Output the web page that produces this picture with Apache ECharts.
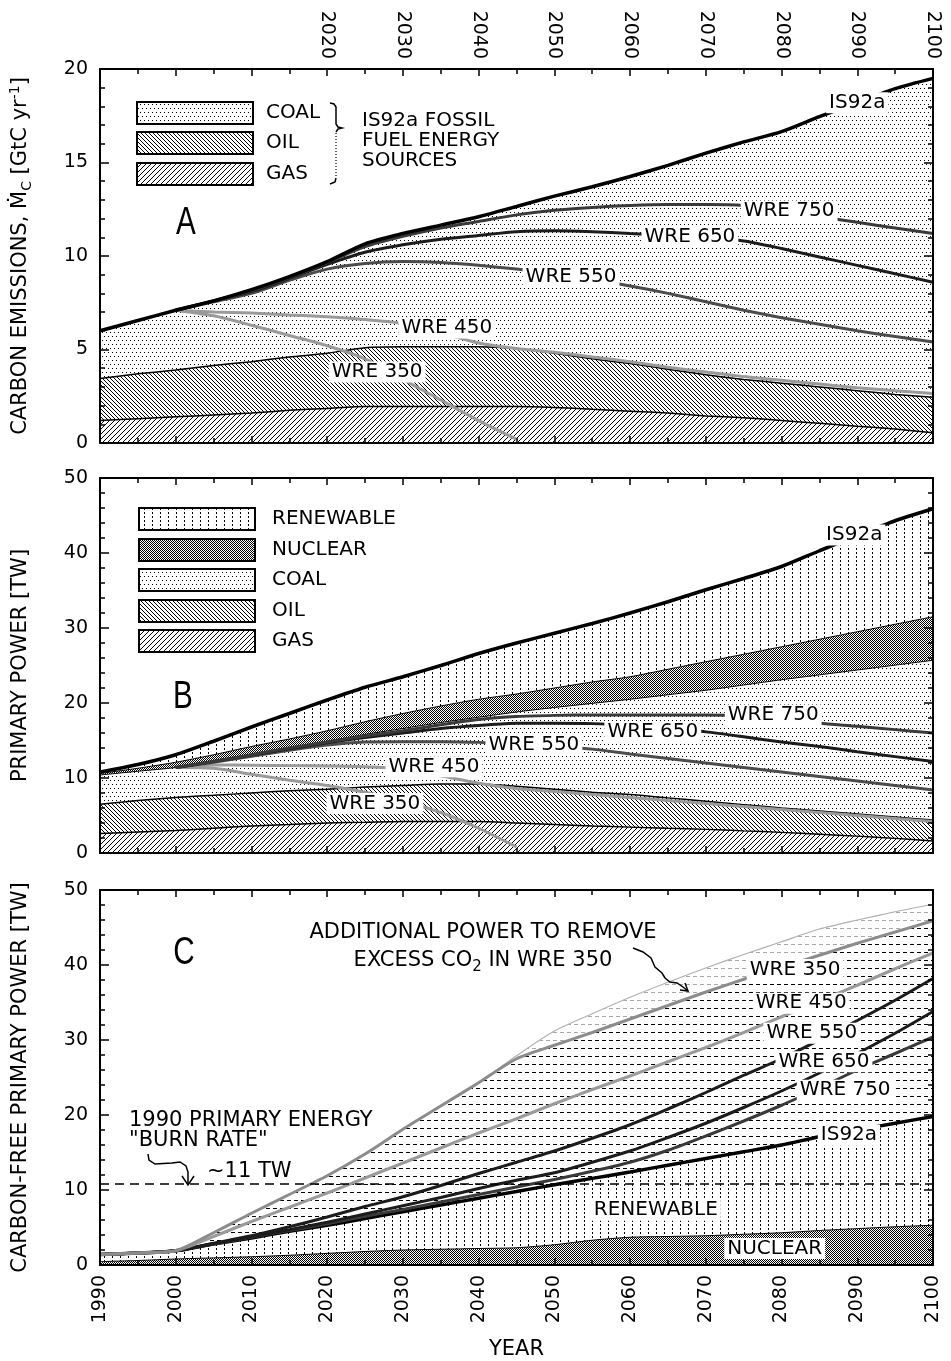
<!DOCTYPE html>
<html>
<head>
<meta charset="utf-8">
<script src="https://cdn.jsdelivr.net/npm/echarts@6/dist/echarts.min.js"></script>
<style>
  html, body { margin: 0; padding: 0; background: #fff; }
  #chart { width: 951px; height: 1361px; }
</style>
</head>
<body>
<div id="chart"></div>
<script>
// ---------------------------------------------------------------------------
// Data (values in GtC/yr for panel A, TW for panels B and C)
// ---------------------------------------------------------------------------
const _ = null;
const YEARS = [1990, 1995, 2000, 2005, 2010, 2015, 2020, 2025, 2030, 2035, 2040, 2045,
               2050, 2055, 2060, 2065, 2070, 2075, 2080, 2085, 2090, 2095, 2100];

// Panel A: carbon emissions, cumulative boundaries of the fossil sources
const A_IS92A_TOTAL = [6.0, 6.55, 7.1, 7.6, 8.2, 8.9, 9.7, 10.65, 11.2, 11.65, 12.1, 12.65,
                       13.2, 13.7, 14.25, 14.85, 15.5, 16.1, 16.65, 17.45, 18.2, 18.95, 19.5];
const A_OIL_TOP = [3.45, 3.7, 3.9, 4.15, 4.35, 4.6, 4.8, 5.1, 5.15, 5.15, 5.15, 5.05,
                   4.8, 4.5, 4.25, 3.95, 3.65, 3.4, 3.2, 3.0, 2.8, 2.6, 2.45];
const A_GAS_TOP = [1.2, 1.3, 1.4, 1.5, 1.6, 1.75, 1.85, 1.95, 1.95, 1.95, 1.95, 1.95,
                   1.9, 1.8, 1.7, 1.6, 1.45, 1.35, 1.2, 1.05, 0.9, 0.75, 0.55];
const A_WRE750 = [_, _, 7.1, 7.6, 8.15, 8.85, 9.65, 10.5, 11.05, 11.5, 11.85, 12.2,
                  12.45, 12.6, 12.7, 12.75, 12.75, 12.7, 12.45, 12.1, 11.8, 11.5, 11.2];
const A_WRE650 = [_, _, 7.1, 7.6, 8.1, 8.8, 9.55, 10.2, 10.6, 10.9, 11.1, 11.3,
                  11.35, 11.3, 11.2, 11.1, 11.0, 10.8, 10.4, 9.95, 9.5, 9.05, 8.6];
const A_WRE550 = [_, _, 7.1, 7.55, 8.0, 8.7, 9.3, 9.6, 9.7, 9.65, 9.5, 9.3,
                  9.05, 8.75, 8.4, 8.0, 7.55, 7.1, 6.7, 6.35, 6.0, 5.7, 5.4];
const A_WRE450 = [_, _, 7.1, 7.0, 6.95, 6.85, 6.75, 6.6, 6.4, 5.9, 5.35, 5.05,
                  4.85, 4.6, 4.35, 4.05, 3.8, 3.55, 3.35, 3.15, 2.95, 2.8, 2.65];
const A_WRE350 = [_, _, 7.1, 6.8, 6.3, 5.75, 5.2, 4.5, 3.4, 2.3, 1.2, 0.2,
                  _, _, _, _, _, _, _, _, _, _, _];

// Panel B: primary power, cumulative boundaries (gas < oil < coal < nuclear < renewable)
const B_TOTAL = [10.8, 11.8, 13.1, 14.9, 16.8, 18.6, 20.4, 22.1, 23.5, 25.0, 26.6, 28.0,
                 29.3, 30.6, 32.0, 33.5, 35.1, 36.6, 38.2, 40.3, 42.3, 44.3, 45.9];
const B_NUCLEAR_TOP = [10.6, 11.3, 12.1, 13.1, 14.2, 15.2, 16.3, 17.5, 18.6, 19.6, 20.5, 21.2,
                       22.0, 22.8, 23.5, 24.5, 25.5, 26.5, 27.5, 28.5, 29.5, 30.5, 31.5];
const B_COAL_TOP = [10.4, 10.9, 11.4, 12.2, 13.1, 14.0, 14.9, 15.8, 16.6, 17.4, 18.1, 18.8,
                    19.4, 19.95, 20.5, 21.1, 21.7, 22.4, 23.1, 23.75, 24.4, 25.05, 25.7];
const B_OIL_TOP = [6.5, 7.0, 7.4, 7.7, 8.0, 8.3, 8.5, 8.8, 9.0, 9.2, 9.2, 8.9,
                   8.5, 8.1, 7.8, 7.35, 6.9, 6.45, 6.0, 5.6, 5.2, 4.8, 4.4];
const B_GAS_TOP = [2.6, 2.8, 3.0, 3.3, 3.6, 3.8, 4.0, 4.1, 4.2, 4.2, 4.2, 4.0,
                   3.8, 3.6, 3.45, 3.3, 3.15, 2.95, 2.75, 2.5, 2.25, 1.95, 1.6];
const B_WRE750 = [_, _, 11.4, 12.2, 13.1, 14.0, 14.8, 15.6, 16.3, 17.1, 17.8, 18.2,
                  18.35, 18.4, 18.4, 18.4, 18.4, 18.3, 17.9, 17.3, 16.9, 16.45, 16.0];
const B_WRE650 = [_, _, 11.4, 12.2, 13.05, 13.9, 14.7, 15.4, 16.0, 16.6, 17.0, 17.3,
                  17.3, 17.25, 17.0, 16.6, 16.15, 15.5, 14.8, 14.2, 13.5, 12.85, 12.2];
const B_WRE550 = [_, _, 11.4, 12.1, 12.9, 13.7, 14.4, 14.8, 14.85, 14.85, 14.75, 14.5,
                  14.2, 13.85, 13.2, 12.6, 12.0, 11.4, 10.8, 10.2, 9.6, 9.0, 8.4];
const B_WRE450 = [_, _, 11.4, 11.75, 11.7, 11.65, 11.6, 11.5, 11.2, 10.3, 9.3, 8.6,
                  8.2, 7.8, 7.4, 7.0, 6.6, 6.2, 5.8, 5.4, 5.0, 4.6, 4.2];
const B_WRE350 = [_, _, 11.4, 11.3, 10.5, 9.7, 9.0, 8.1, 6.9, 5.4, 3.3, 0.8,
                  _, _, _, _, _, _, _, _, _, _, _];

// Panel C: carbon-free primary power
const C_NUCLEAR = [0.45, 0.6, 0.8, 0.95, 1.1, 1.3, 1.55, 1.8, 2.0, 2.1, 2.2, 2.3,
                   2.7, 3.3, 3.7, 3.8, 3.9, 4.1, 4.3, 4.6, 4.85, 5.1, 5.3];
const C_IS92A = [1.4, 1.6, 1.9, 2.8, 3.6, 4.5, 5.3, 6.2, 7.1, 8.0, 8.9, 9.8,
                 10.7, 11.55, 12.4, 13.3, 14.2, 15.1, 16.0, 17.1, 18.0, 18.9, 19.8];
const C_WRE750 = [1.4, 1.6, 1.9, 2.8, 3.7, 4.6, 5.5, 6.5, 7.4, 8.4, 9.4, 10.4,
                  11.4, 12.5, 13.7, 15.3, 17.2, 19.2, 21.3, 23.6, 26.0, 28.2, 30.4];
const C_WRE650 = [1.4, 1.6, 1.9, 2.85, 3.75, 4.7, 5.7, 6.8, 7.9, 9.0, 10.2, 11.3,
                  12.3, 13.7, 15.2, 17.0, 18.9, 21.0, 23.2, 25.6, 28.2, 30.9, 33.8];
const C_WRE550 = [1.4, 1.6, 1.9, 2.9, 3.9, 5.1, 6.4, 7.8, 9.1, 10.6, 12.2, 13.7,
                  15.2, 16.9, 18.7, 20.8, 23.0, 25.3, 27.5, 30.0, 32.6, 35.3, 38.2];
const C_WRE450 = [1.4, 1.6, 1.9, 3.8, 5.8, 7.7, 9.6, 11.6, 13.6, 15.6, 17.6, 19.5,
                  21.5, 23.4, 25.2, 27.1, 29.0, 31.0, 33.1, 35.2, 37.3, 39.5, 41.6];
const C_WRE350 = [1.4, 1.6, 1.9, 4.3, 6.9, 9.4, 11.9, 14.8, 18.1, 21.2, 24.3, 27.5,
                  29.3, 31.0, 32.8, 34.6, 36.4, 38.1, 39.7, 41.3, 42.9, 44.4, 45.9];
const C_WRE350_WITH_REMOVAL = [1.4, 1.6, 1.9, 4.3, 6.9, 9.4, 11.9, 14.8, 18.1, 21.2, 24.3, 27.9,
                               31.2, 33.5, 35.7, 37.7, 39.6, 41.4, 43.1, 44.8, 46.0, 47.1, 48.1];
const BURN_RATE_1990 = 10.8;

// ---------------------------------------------------------------------------
// Fill patterns
// ---------------------------------------------------------------------------
function makePattern(w, h, draw) {
  const c = document.createElement('canvas');
  c.width = w; c.height = h;
  const g = c.getContext('2d');
  g.fillStyle = '#fff'; g.fillRect(0, 0, w, h);
  g.fillStyle = '#000';
  draw(g);
  return { image: c, repeat: 'repeat' };
}
const PAT = {
  coal: makePattern(8, 8, g => { [[0, 0], [4, 0], [2, 4], [6, 4]].forEach(([x, y]) => g.fillRect(x, y, 1, 1)); }),
  oil: makePattern(4, 4, g => { for (let i = 0; i < 4; i++) g.fillRect(i, i, 1, 1); }),
  gas: makePattern(5, 5, g => { for (let i = 0; i < 5; i++) g.fillRect(4 - i, i, 1, 1); }),
  nuclear: makePattern(2, 2, g => { g.fillRect(0, 0, 1, 1); g.fillRect(1, 1, 1, 1); }),
  renewable: makePattern(8, 4, g => { g.fillRect(0, 0, 1, 2); }),
  dash: makePattern(7, 8, g => { g.fillRect(0, 0, 4, 1); }),
  dashLight: makePattern(7, 8, g => { g.fillStyle = '#a8a8a8'; g.fillRect(0, 0, 4, 1); })
};

// ---------------------------------------------------------------------------
// Layout
// ---------------------------------------------------------------------------
const FONT = "'DejaVu Sans', 'Noto Sans', sans-serif";
const LETTER_FONT = "'Liberation Sans', 'DejaVu Sans', sans-serif";
const SMOOTH = 0.25;

const grids = [
  { left: 100, top: 69, width: 833, height: 374 },
  { left: 100, top: 478, width: 833, height: 375 },
  { left: 100, top: 890, width: 833, height: 376 }
];

function xAxisCfg(gi, pos, showLabels, formatter) {
  return {
    type: 'value', gridIndex: gi, position: pos, min: 1990, max: 2100, interval: 10, z: 10,
    axisLine: { show: true, onZero: false, lineStyle: { color: '#000', width: 2 } },
    axisTick: { show: true, inside: true, length: 7, lineStyle: { color: '#000', width: 1.5 } },
    minorTick: { show: true, splitNumber: 2, length: 5, lineStyle: { color: '#000', width: 1.5 } },
    splitLine: { show: false }, minorSplitLine: { show: false },
    axisLabel: {
      show: showLabels, rotate: 90, margin: 10, showMinLabel: true, showMaxLabel: true,
      fontFamily: FONT, fontSize: 19, color: '#000',
      formatter: formatter || (v => String(v))
    }
  };
}
function yAxisCfg(gi, pos, max, interval, minorSplit, showLabels, name, nameSize, rich) {
  const cfg = {
    type: 'value', gridIndex: gi, position: pos, min: 0, max: max, interval: interval, z: 10,
    axisLine: { show: true, onZero: false, lineStyle: { color: '#000', width: 2 } },
    axisTick: { show: true, inside: true, length: 9, lineStyle: { color: '#000', width: 1.5 } },
    minorTick: { show: true, splitNumber: minorSplit, length: 5, lineStyle: { color: '#000', width: 1.5 } },
    splitLine: { show: false }, minorSplitLine: { show: false },
    axisLabel: { show: showLabels, margin: 12, fontFamily: FONT, fontSize: 19, color: '#000' }
  };
  if (name) {
    cfg.name = name;
    cfg.nameLocation = 'middle';
    cfg.nameRotate = 90;
    cfg.nameGap = 66;
    cfg.nameTextStyle = { fontFamily: FONT, fontSize: nameSize, color: '#000', lineHeight: 26, rich: rich || {} };
  }
  return cfg;
}

const xAxes = [
  xAxisCfg(0, 'top', true, v => (v >= 2020 ? String(v) : '')),
  xAxisCfg(0, 'bottom', false),
  xAxisCfg(1, 'bottom', false),
  xAxisCfg(1, 'top', false),
  Object.assign(xAxisCfg(2, 'bottom', true), {
    name: 'YEAR', nameLocation: 'middle', nameGap: 74,
    nameTextStyle: { fontFamily: FONT, fontSize: 21, color: '#000' }
  }),
  xAxisCfg(2, 'top', false)
];
const subSup = {
  s: { fontFamily: FONT, fontSize: 14, color: '#000', verticalAlign: 'bottom', lineHeight: 26 },
  p: { fontFamily: FONT, fontSize: 14, color: '#000', verticalAlign: 'top', lineHeight: 26 }
};
const yAxes = [
  yAxisCfg(0, 'left', 20, 5, 5, true, 'CARBON EMISSIONS, \u1E40{s|C} [GtC yr{p|-1}]', 21, subSup),
  yAxisCfg(0, 'right', 20, 5, 5, false),
  yAxisCfg(1, 'left', 50, 10, 5, true, 'PRIMARY POWER [TW]', 21),
  yAxisCfg(1, 'right', 50, 10, 5, false),
  yAxisCfg(2, 'left', 50, 10, 5, true, 'CARBON-FREE PRIMARY POWER [TW]', 21),
  yAxisCfg(2, 'right', 50, 10, 5, false)
];

// ---------------------------------------------------------------------------
// Series helpers
// ---------------------------------------------------------------------------
const pairs = vals => YEARS.map((y, i) => [y, vals[i]]).filter(p => p[1] !== null);
const series = [];

function area(xi, yi, vals, fill, lineWidth) {
  series.push({
    type: 'line', xAxisIndex: xi, yAxisIndex: yi, data: pairs(vals),
    symbol: 'none', smooth: SMOOTH, silent: true, z: 2,
    lineStyle: { color: '#000', width: lineWidth || 1, opacity: lineWidth === 0 ? 0 : 1 },
    areaStyle: { color: fill, opacity: 1 }
  });
}
function curve(xi, yi, vals, color, width, extra) {
  series.push(Object.assign({
    type: 'line', xAxisIndex: xi, yAxisIndex: yi, data: pairs(vals),
    symbol: 'none', smooth: SMOOTH, silent: true, z: 3,
    lineStyle: { color: color, width: width }
  }, extra || {}));
}
// Text placed on the curves, drawn through the same axes as the data
function textMarks(xi, yi, items) {
  series.push({
    type: 'scatter', xAxisIndex: xi, yAxisIndex: yi, symbol: 'circle', symbolSize: 1,
    silent: true, z: 20,
    itemStyle: { color: '#fff', opacity: 1 },
    data: items.map(([t, x, y]) => ({ name: t, value: [x, y] })),
    label: {
      show: true, position: 'inside', formatter: '{b}', opacity: 1,
      fontFamily: FONT, fontSize: 20, color: '#000',
      textBorderWidth: 0, textShadowBlur: 0,
      backgroundColor: '#ffffff', padding: [1, 3, 0, 3]
    }
  });
}

const DARK1 = '#1c1c1c', DARK2 = '#3a3a3a', DARK3 = '#4c4c4c', LIGHT = '#9a9a9a';

// ---- Panel A ----
area(0, 0, A_IS92A_TOTAL, PAT.coal, 0);
area(0, 0, A_OIL_TOP, PAT.oil, 1.5);
area(0, 0, A_GAS_TOP, PAT.gas, 1.5);
curve(0, 0, A_WRE350, LIGHT, 3);
curve(0, 0, A_WRE450, LIGHT, 3);
curve(0, 0, A_WRE550, DARK3, 3);
curve(0, 0, A_WRE650, DARK1, 3);
curve(0, 0, A_WRE750, DARK2, 3);
curve(0, 0, A_IS92A_TOTAL, '#000', 3.5);
textMarks(0, 0, [
  ['IS92a', 2090, 18.2], ['WRE 750', 2081, 12.4], ['WRE 650', 2067.9, 11.05],
  ['WRE 550', 2052.2, 8.9], ['WRE 450', 2035.8, 6.15], ['WRE 350', 2026.6, 3.8]
]);

// ---- Panel B ----
area(2, 2, B_TOTAL, PAT.renewable, 0);
area(2, 2, B_NUCLEAR_TOP, PAT.nuclear, 1);
area(2, 2, B_COAL_TOP, PAT.coal, 1);
area(2, 2, B_OIL_TOP, PAT.oil, 1.5);
area(2, 2, B_GAS_TOP, PAT.gas, 1.5);
curve(2, 2, B_WRE350, LIGHT, 3);
curve(2, 2, B_WRE450, LIGHT, 3);
curve(2, 2, B_WRE550, DARK3, 3);
curve(2, 2, B_WRE650, DARK1, 3);
curve(2, 2, B_WRE750, DARK2, 3);
curve(2, 2, B_TOTAL, '#000', 3.5);
textMarks(2, 2, [
  ['IS92a', 2089.6, 42.4], ['WRE 750', 2078.9, 18.4], ['WRE 650', 2063.0, 16.2],
  ['WRE 550', 2047.3, 14.4], ['WRE 450', 2034.1, 11.5], ['WRE 350', 2026.3, 6.6]
]);

// ---- Panel C ----
area(4, 4, C_WRE350_WITH_REMOVAL, PAT.dashLight, 0);
area(4, 4, C_WRE350, PAT.dash, 0);
area(4, 4, C_IS92A, PAT.renewable, 0);
area(4, 4, C_NUCLEAR, PAT.nuclear, 1);
curve(4, 4, C_WRE350_WITH_REMOVAL, '#b0b0b0', 1.2);
curve(4, 4, C_IS92A, '#000', 3.5, {
  markLine: {
    silent: true, symbol: 'none', label: { show: false }, z: 6,
    lineStyle: { color: '#000', width: 1.5, type: [9, 6] },
    data: [{ yAxis: BURN_RATE_1990 }]
  }
});
curve(4, 4, C_WRE750, DARK2, 3);
curve(4, 4, C_WRE650, DARK1, 3);
curve(4, 4, C_WRE550, DARK1, 3);
curve(4, 4, C_WRE450, LIGHT, 3);
curve(4, 4, C_WRE350, '#8c8c8c', 3);
textMarks(4, 4, [
  ['WRE 350', 2081.8, 39.4], ['WRE 450', 2082.6, 34.9], ['WRE 550', 2084.0, 30.9],
  ['WRE 650', 2085.6, 27.1], ['WRE 750', 2088.4, 23.3], ['IS92a', 2088.9, 17.3],
  ['RENEWABLE', 2063.4, 7.3], ['NUCLEAR', 2079.1, 2.2]
]);

// ---------------------------------------------------------------------------
// Legends, panel letters and annotations
// ---------------------------------------------------------------------------
const graphics = [];
function gRect(x, y, w, h, fill) {
  graphics.push({ type: 'rect', z: 100, silent: true, shape: { x, y, width: w, height: h },
    style: { fill, stroke: '#000', lineWidth: 2 } });
}
function gText(x, y, text, size, extra) {
  graphics.push({ type: 'text', z: 100, silent: true, x, y,
    style: Object.assign({ text, font: `${size}px ${FONT}`, fill: '#000', align: 'left', verticalAlign: 'middle' }, extra || {}) });
}
function gLine(points, width, dash) {
  graphics.push({ type: 'polyline', z: 100, silent: true, shape: { points },
    style: { stroke: '#000', lineWidth: width, fill: null, lineDash: dash || null } });
}

// Legend, panel A
[['COAL', PAT.coal, 102], ['OIL', PAT.oil, 132], ['GAS', PAT.gas, 163]].forEach(([t, p, y]) => {
  gRect(137, y, 116, 22, p);
  gText(266, y + 11, t, 20);
});
gLine([[330, 103], [334, 104], [336, 107], [336, 124], [338, 127], [342, 128], [338, 129], [336, 132]], 1.5);
gLine([[336, 133], [336, 178]], 1.2, [1, 2]);
gLine([[336, 178], [335, 182], [330, 184]], 1.5);
gText(362, 141, 'IS92a FOSSIL\nFUEL ENERGY\nSOURCES', 20, { lineHeight: 20 });

// Legend, panel B
[['RENEWABLE', PAT.renewable, 508], ['NUCLEAR', PAT.nuclear, 539], ['COAL', PAT.coal, 569],
 ['OIL', PAT.oil, 600], ['GAS', PAT.gas, 630]].forEach(([t, p, y]) => {
  gRect(139, y, 116, 22, p);
  gText(272, y + 11, t, 20);
});

// Panel letters (narrowed)
[['A', 186, 224], ['B', 183, 698], ['C', 184, 954]].forEach(([t, x, y]) => {
  graphics.push({ type: 'text', z: 100, silent: true, x, y, scaleX: 0.78,
    style: { text: t, font: `38px ${LETTER_FONT}`, fill: '#000', align: 'center', verticalAlign: 'middle' } });
});

// Panel C annotations
gText(483, 933, 'ADDITIONAL POWER TO REMOVE', 21, { align: 'center' });
graphics.push({ type: 'text', z: 100, silent: true, x: 483, y: 961,
  style: {
    text: 'EXCESS CO{s|2} IN WRE 350', font: `21px ${FONT}`, fill: '#000',
    align: 'center', verticalAlign: 'middle',
    rich: { s: { font: `15px ${FONT}`, fill: '#000', verticalAlign: 'bottom', lineHeight: 28 } }
  } });
gLine([[633, 948], [643, 952], [651, 958], [655, 967], [662, 973], [665, 978], [670, 982],
       [677, 983], [683, 987], [688, 991]], 1.5);
gLine([[680, 990], [688, 991], [685, 983]], 1.5);

gText(129, 1121, '1990 PRIMARY ENERGY', 21);
gText(129, 1141, '"BURN RATE"', 21);
gText(207, 1172, '~11 TW', 21);
gLine([[148, 1154], [149, 1160], [155, 1164], [172, 1163], [180, 1162], [186, 1166], [188, 1172], [188, 1184]], 1.5);
gLine([[182, 1176], [188, 1185], [194, 1176]], 1.5);

// ---------------------------------------------------------------------------
const chart = echarts.init(document.getElementById('chart'), null, { renderer: 'canvas' });
chart.setOption({
  animation: false,
  backgroundColor: '#fff',
  grid: grids,
  xAxis: xAxes,
  yAxis: yAxes,
  series: series,
  graphic: graphics
});
</script>
</body>
</html>
